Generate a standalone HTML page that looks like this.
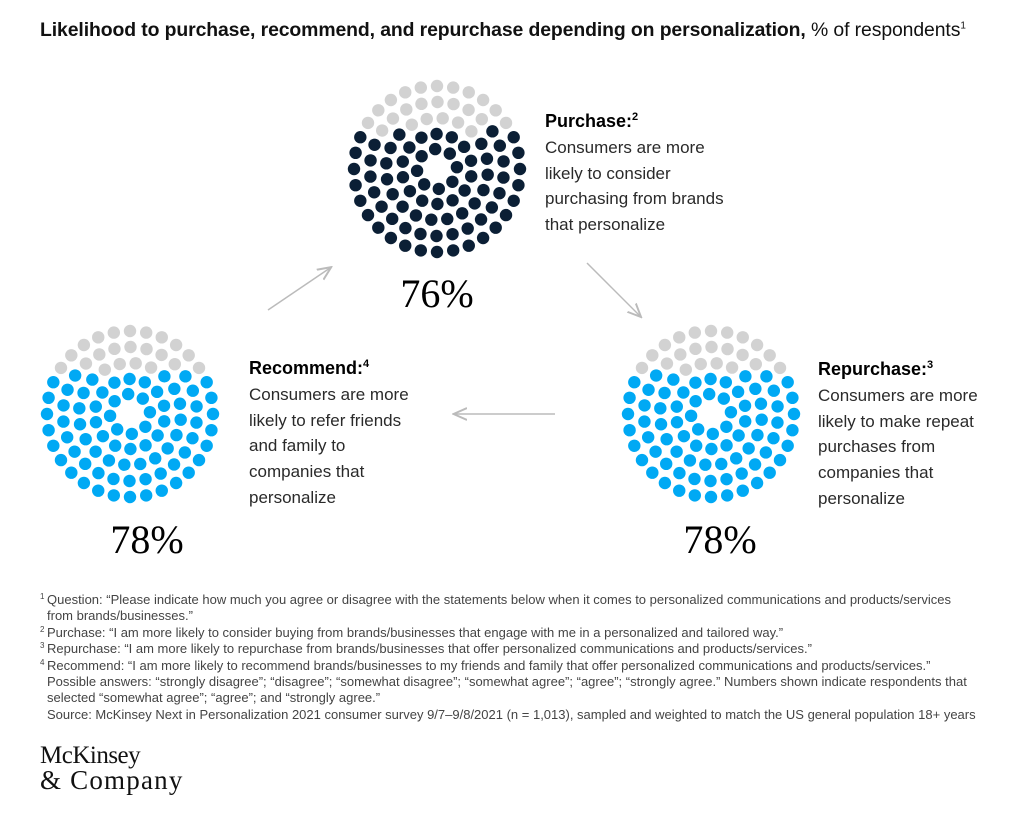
<!DOCTYPE html>
<html><head><meta charset="utf-8">
<style>
body{margin:0;width:1024px;height:828px;background:#fff;font-family:"Liberation Sans",sans-serif;color:#111;position:relative;overflow:hidden}
.abs{position:absolute}
.title{left:40px;top:19px;font-size:19.4px;white-space:nowrap;letter-spacing:-0.1px}
.title b{font-weight:bold}
.lbl{font-size:17px;line-height:25.8px;color:#2a2a2a}
.lbl b{font-size:18px;color:#000}
.pct{font-family:"Liberation Serif",serif;font-size:40px;color:#000;width:200px;text-align:center}
.fn{left:40px;top:592px;font-size:13px;line-height:16.4px;color:#444;white-space:nowrap}
.fn div{padding-left:7px;position:relative}
.fn sup{position:absolute;left:0;top:-3px;font-size:8px}
.logo{left:40px;top:743px;font-family:"Liberation Serif",serif;font-size:25px;line-height:25px;color:#111;letter-spacing:-0.5px}
</style></head><body>
<div class="abs title"><b>Likelihood to purchase, recommend, and repurchase depending on personalization,</b> % of respondents<sup style="font-size:10px">1</sup></div>

<svg class="abs" style="left:0;top:0" width="1024" height="600" id="chart">
<defs><marker id="ah" markerWidth="10" markerHeight="10" refX="8" refY="5" orient="auto"><path d="M0,1 L9,5 L0,9" fill="none" stroke="#bbb" stroke-width="1.3"/></marker></defs>
<line x1="268" y1="310" x2="330" y2="268" stroke="#bbb" stroke-width="1.5" marker-end="url(#ah)"/>
<line x1="587" y1="263" x2="640" y2="316" stroke="#bbb" stroke-width="1.5" marker-end="url(#ah)"/>
<line x1="555" y1="414" x2="455" y2="414" stroke="#bbb" stroke-width="1.5" marker-end="url(#ah)"/>
</svg>

<div class="abs pct" style="left:337px;top:270px">76%</div>
<div class="abs pct" style="left:47px;top:516px">78%</div>
<div class="abs pct" style="left:620px;top:516px">78%</div>

<div class="abs lbl" style="left:545px;top:105px"><b>Purchase:<sup style="font-size:11px">2</sup></b><br>Consumers are more<br>likely to consider<br>purchasing from brands<br>that personalize</div>
<div class="abs lbl" style="left:249px;top:352px"><b>Recommend:<sup style="font-size:11px">4</sup></b><br>Consumers are more<br>likely to refer friends<br>and family to<br>companies that<br>personalize</div>
<div class="abs lbl" style="left:818px;top:353px"><b>Repurchase:<sup style="font-size:11px">3</sup></b><br>Consumers are more<br>likely to make repeat<br>purchases from<br>companies that<br>personalize</div>

<div class="abs fn">
<div><sup>1</sup>Question: “Please indicate how much you agree or disagree with the statements below when it comes to personalized communications and products/services</div>
<div>from brands/businesses.”</div>
<div><sup>2</sup>Purchase: “I am more likely to consider buying from brands/businesses that engage with me in a personalized and tailored way.”</div>
<div><sup>3</sup>Repurchase: “I am more likely to repurchase from brands/businesses that offer personalized communications and products/services.”</div>
<div><sup>4</sup>Recommend: “I am more likely to recommend brands/businesses to my friends and family that offer personalized communications and products/services.”</div>
<div>Possible answers: “strongly disagree”; “disagree”; “somewhat disagree”; “somewhat agree”; “agree”; “strongly agree.” Numbers shown indicate respondents that</div>
<div>selected “somewhat agree”; “agree”; and “strongly agree.”</div>
<div>Source: McKinsey Next in Personalization 2021 consumer survey 9/7–9/8/2021 (n = 1,013), sampled and weighted to match the US general population 18+ years</div>
</div>
<div class="abs logo">McKinsey<br><span style="letter-spacing:1.2px;font-size:27px">&amp; Company</span></div>

<script>
const categories = ["Purchase", "Recommend", "Repurchase"];
const values = [76, 78, 78];
const colors = ["#0b1f35", "#00a9f4", "#00a9f4"];
const centers = [[437,169],[130,414],[711,414]];
const ringRadii = [83, 67, 51, 35, 20];
const ringCounts = [32, 26, 20, 14, 8];
const svg = document.getElementById('chart');
const NS = 'http://www.w3.org/2000/svg';
categories.forEach((cat, ci) => {
  const [cx, cy] = centers[ci];
  const pts = [];
  ringRadii.forEach((r, ri) => {
    const n = ringCounts[ri];
    const off = ri * 0.37;
    for (let k = 0; k < n; k++) {
      const a = off + k * 2 * Math.PI / n;
      pts.push([cx + r * Math.cos(a), cy + r * Math.sin(a)]);
    }
  });
  const total = pts.length;
  const grayCount = Math.round(total * (100 - values[ci]) / 100);
  const order = pts.map((p, i) => i).sort((a, b) => pts[a][1] - pts[b][1]);
  const gray = new Set(order.slice(0, grayCount));
  const g = document.createElementNS(NS, 'g');
  
  
  pts.forEach((p, i) => {
    const c = document.createElementNS(NS, 'circle');
    c.setAttribute('cx', p[0]); c.setAttribute('cy', p[1]); c.setAttribute('r', 6.2);
    c.setAttribute('fill', gray.has(i) ? '#d2d2d2' : colors[ci]);
    
    
    g.appendChild(c);
  });
  svg.appendChild(g);
});
</script>
</body></html>
